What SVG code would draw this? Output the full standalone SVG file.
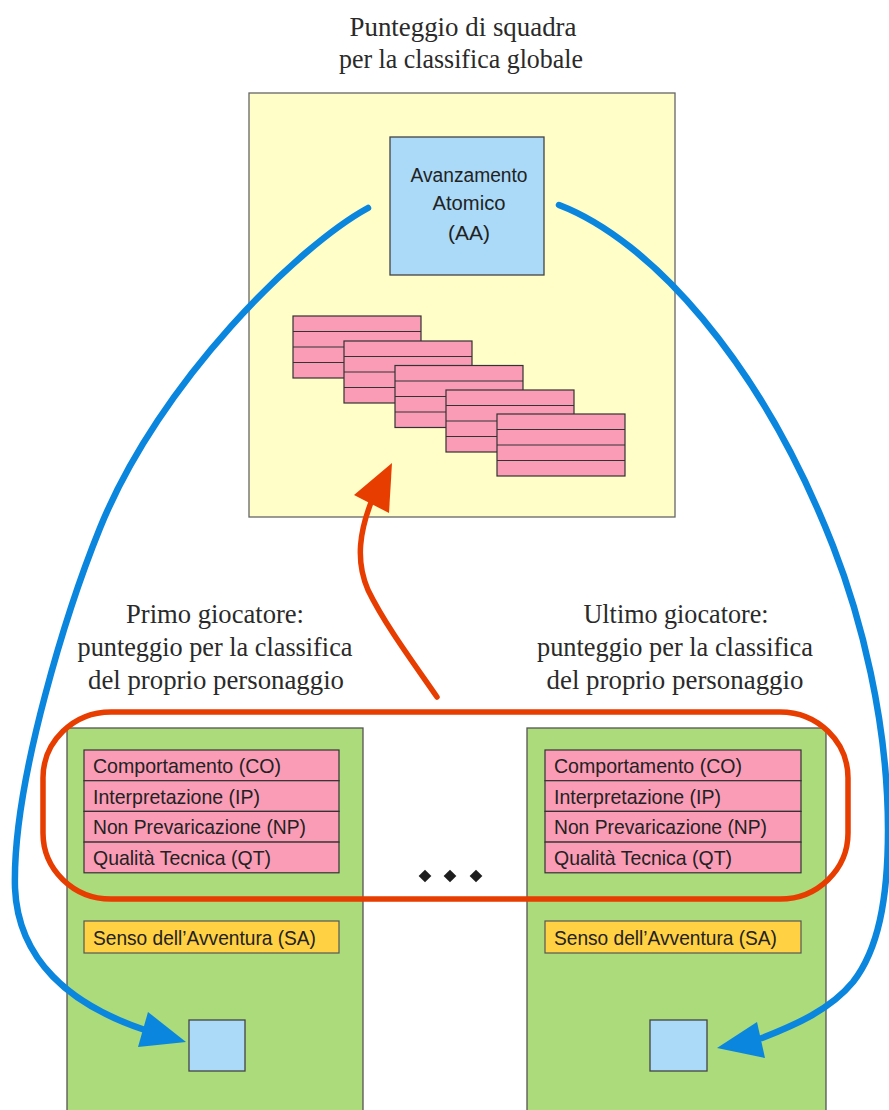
<svg xmlns="http://www.w3.org/2000/svg" width="889" height="1110" viewBox="0 0 889 1110">
<style>
.title{font-family:"Liberation Serif","DejaVu Serif",serif;font-size:27px;fill:#2a2a2a;text-anchor:middle}
.lbl{font-family:"Liberation Sans","DejaVu Sans",sans-serif;font-size:21px;fill:#222}
.aa{font-family:"Liberation Sans","DejaVu Sans",sans-serif;font-size:20px;fill:#222;text-anchor:middle}
.yel{fill:#FFFDC8;stroke:#666;stroke-width:1.3}
.blue{fill:#AADAF8;stroke:#444;stroke-width:1.3}
.pink{fill:#FA9CB6;stroke:#333;stroke-width:1.2}
.grn{fill:#ABDB7B;stroke:#555;stroke-width:1.3}
.sa{fill:#FFD143;stroke:#555;stroke-width:1.2}
.bl{fill:none;stroke:#0A86DE;stroke-width:6.5;stroke-linecap:round}
.bh{fill:#0A86DE}
.rd{fill:none;stroke:#E83D00;stroke-width:5.5;stroke-linecap:round}
.rh{fill:#E83D00}
</style>
<rect width="889" height="1110" fill="#fff"/>

<g id="title">
<text class="title" x="463" y="36" textLength="227" lengthAdjust="spacingAndGlyphs">Punteggio di squadra</text>
<text class="title" x="461" y="68" textLength="244" lengthAdjust="spacingAndGlyphs">per la classifica globale</text>
</g>

<g id="team">
<rect class="yel" x="249" y="93" width="426" height="424"/>
<g id="aa">
<rect class="blue" x="390" y="137" width="154" height="138"/>
<text class="aa" x="469" y="182" textLength="117" lengthAdjust="spacingAndGlyphs">Avanzamento</text>
<text class="aa" x="469" y="210" textLength="73" lengthAdjust="spacingAndGlyphs">Atomico</text>
<text class="aa" x="469" y="240" textLength="42" lengthAdjust="spacingAndGlyphs">(AA)</text>
</g>
<g id="stack">
<g transform="translate(293,316)"><rect class="pink" width="128" height="62"/><path d="M0 15.5H128M0 31H128M0 46.5H128" stroke="#333" stroke-width="1.2"/></g>
<g transform="translate(344,341)"><rect class="pink" width="128" height="62"/><path d="M0 15.5H128M0 31H128M0 46.5H128" stroke="#333" stroke-width="1.2"/></g>
<g transform="translate(395,365.5)"><rect class="pink" width="128" height="62"/><path d="M0 15.5H128M0 31H128M0 46.5H128" stroke="#333" stroke-width="1.2"/></g>
<g transform="translate(446,390)"><rect class="pink" width="128" height="62"/><path d="M0 15.5H128M0 31H128M0 46.5H128" stroke="#333" stroke-width="1.2"/></g>
<g transform="translate(497,414)"><rect class="pink" width="128" height="62"/><path d="M0 15.5H128M0 31H128M0 46.5H128" stroke="#333" stroke-width="1.2"/></g>
</g>
</g>

<g id="label-first">
<text class="title" x="215" y="623" textLength="178" lengthAdjust="spacingAndGlyphs">Primo giocatore:</text>
<text class="title" x="215" y="656" textLength="275" lengthAdjust="spacingAndGlyphs">punteggio per la classifica</text>
<text class="title" x="216" y="689" textLength="256" lengthAdjust="spacingAndGlyphs">del proprio personaggio</text>
</g>
<g id="label-last">
<text class="title" x="676" y="623" textLength="185" lengthAdjust="spacingAndGlyphs">Ultimo giocatore:</text>
<text class="title" x="675" y="656" textLength="276" lengthAdjust="spacingAndGlyphs">punteggio per la classifica</text>
<text class="title" x="675" y="689" textLength="257" lengthAdjust="spacingAndGlyphs">del proprio personaggio</text>
</g>

<g id="player-first">
<rect class="grn" x="67" y="728" width="296" height="390"/>
<rect class="pink" x="84" y="750" width="255" height="30.7"/>
<rect class="pink" x="84" y="780.7" width="255" height="30.7"/>
<rect class="pink" x="84" y="811.4" width="255" height="30.7"/>
<rect class="pink" x="84" y="842.1" width="255" height="30.7"/>
<text class="lbl" x="93" y="773" textLength="188" lengthAdjust="spacingAndGlyphs">Comportamento (CO)</text>
<text class="lbl" x="93" y="804" textLength="167" lengthAdjust="spacingAndGlyphs">Interpretazione (IP)</text>
<text class="lbl" x="93" y="834" textLength="213" lengthAdjust="spacingAndGlyphs">Non Prevaricazione (NP)</text>
<text class="lbl" x="93" y="865" textLength="178" lengthAdjust="spacingAndGlyphs">Qualità Tecnica (QT)</text>
<rect class="sa" x="84" y="921" width="255" height="32"/>
<text class="lbl" x="93" y="945" textLength="223" lengthAdjust="spacingAndGlyphs">Senso dell’Avventura (SA)</text>
<rect class="blue" x="189" y="1020" width="56" height="51"/>
</g>

<g id="player-last">
<rect class="grn" x="527" y="728" width="299" height="390"/>
<rect class="pink" x="545" y="750" width="256" height="30.7"/>
<rect class="pink" x="545" y="780.7" width="256" height="30.7"/>
<rect class="pink" x="545" y="811.4" width="256" height="30.7"/>
<rect class="pink" x="545" y="842.1" width="256" height="30.7"/>
<text class="lbl" x="554" y="773" textLength="188" lengthAdjust="spacingAndGlyphs">Comportamento (CO)</text>
<text class="lbl" x="554" y="804" textLength="167" lengthAdjust="spacingAndGlyphs">Interpretazione (IP)</text>
<text class="lbl" x="554" y="834" textLength="213" lengthAdjust="spacingAndGlyphs">Non Prevaricazione (NP)</text>
<text class="lbl" x="554" y="865" textLength="178" lengthAdjust="spacingAndGlyphs">Qualità Tecnica (QT)</text>
<rect class="sa" x="545" y="921" width="256" height="32"/>
<text class="lbl" x="554" y="945" textLength="223" lengthAdjust="spacingAndGlyphs">Senso dell’Avventura (SA)</text>
<rect class="blue" x="650" y="1020" width="57" height="51"/>
</g>

<g id="ellipsis" fill="#1e1e1e">
<rect x="420.5" y="871.5" width="9" height="9" transform="rotate(45 425 876)"/>
<rect x="445.5" y="871.5" width="9" height="9" transform="rotate(45 450 876)"/>
<rect x="471.5" y="871.5" width="9" height="9" transform="rotate(45 476 876)"/>
</g>

<g id="connectors">
<rect class="rd" x="43" y="712" width="805" height="187" rx="68" ry="66"/>
<path class="rd" d="M437 697C415 665 385 625 368 590C355 560 360 530 372 500"/>
<polygon class="rh" points="392,463 354,495 389,513"/>
<path class="bl" d="M368 208C300 245 160 380 100 528C70 602 12 780 15 888C18 960 70 1005 145 1030"/>
<polygon class="bh" points="186,1042 148,1012 138,1047"/>
<path class="bl" d="M559 205C650 240 760 360 833 546C860 615 888 720 888 830C888 900 878 950 853 982C830 1010 795 1025 762 1038"/>
<polygon class="bh" points="717,1048 757,1022 765,1058"/>
</g>
</svg>
